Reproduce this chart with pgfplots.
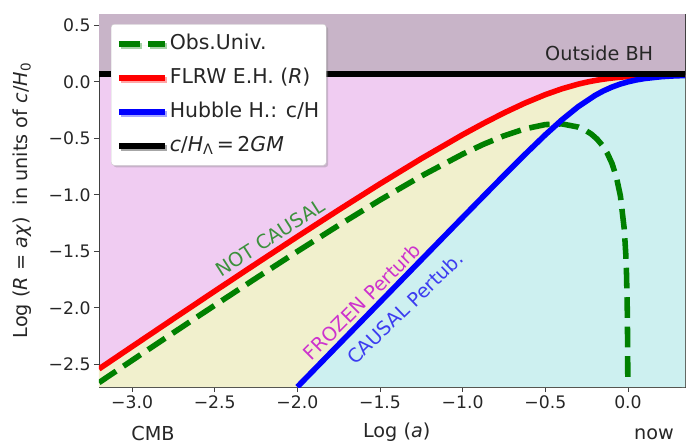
\documentclass[border=0pt]{standalone}
\usepackage{fontspec}
\setmainfont{DejaVu Sans}
\usepackage{pgfplots}
\usepackage{pgfplotstable}
\pgfplotsset{compat=1.18}
\usetikzlibrary{shadows}
\definecolor{pinkc}{RGB}{240,204,242}
\definecolor{yellowc}{RGB}{241,240,205}
\definecolor{cyanc}{RGB}{205,240,240}
\definecolor{topc}{RGB}{200,180,200}
\definecolor{mplgreen}{RGB}{0,128,0}
\definecolor{txtgreen}{RGB}{60,145,60}
\definecolor{txtmag}{RGB}{205,50,205}
\definecolor{txtblue}{RGB}{60,60,240}

\pgfplotstableread{
x y
-3.2 -2.5401
-3.0 -2.3426
-2.75 -2.0967
-2.5 -1.8521
-2.25 -1.6095
-2.0 -1.3696
-1.75 -1.1334
-1.5 -0.9025
-1.25 -0.6793
-1.0 -0.4678
-0.875 -0.3685
-0.75 -0.2750
-0.625 -0.1892
-0.5 -0.1135
-0.4 -0.0620
-0.30103 -0.0205
-0.25964 -0.0062
-0.22185 0.0053
-0.18709 0.0146
-0.15490 0.0221
-0.12494 0.0283
-0.09691 0.0333
-0.07058 0.0374
-0.04576 0.0409
-0.02228 0.0438
0.0 0.0461
0.04139 0.0499
0.0969 0.0536
0.17609 0.0571
0.345 0.0608
}\redtab

\pgfplotstableread{
x y
-2.0 -2.6990
-1.75 -2.3240
-1.5 -1.9490
-1.25 -1.5741
-1.125 -1.3868
-1.0 -1.1996
-0.875 -1.0130
-0.75 -0.8276
-0.625 -0.6450
-0.5 -0.4687
-0.4 -0.3366
-0.3 -0.2185
-0.2 -0.1209
-0.15 -0.0814
-0.1 -0.0483
-0.05 -0.0213
0.0 0.0
0.05 0.0165
0.1 0.0289
0.2 0.0450
0.27 0.0515
0.345 0.0559
}\bluetab

\pgfplotstableread{
x y
-3.2 -2.6612
-3.0 -2.4645
-2.75 -2.2199
-2.5 -1.9772
-2.25 -1.7371
-2.0 -1.5006
-1.75 -1.2693
-1.5 -1.0457
-1.25 -0.8335
-1.0 -0.6395
-0.875 -0.5532
-0.75 -0.4774
-0.625 -0.4167
-0.5 -0.3783
-0.4 -0.3723
-0.30103 -0.4002
-0.25964 -0.4268
-0.22185 -0.4620
-0.18709 -0.5067
-0.15490 -0.5625
-0.12494 -0.6322
-0.09691 -0.7211
-0.07058 -0.8392
-0.04576 -1.0094
-0.02228 -1.3054
-0.01323 -1.5255
-0.00877 -1.7007
-0.00437 -2.0008
-0.00218 -2.3015
-0.00102 -2.63
}\greentab

\pgfplotstableread{
x y
-3.2 0.07
0.345 0.07
}\blacktab

\begin{document}
\begin{tikzpicture}
\useasboundingbox (-99bp,-57bp) rectangle (588bp,387bp);
\begin{axis}[
  at={(0,0)}, anchor=south west,
  scale only axis, width=586bp, height=373bp,
  xmin=-3.2, xmax=0.345, ymin=-2.7, ymax=0.6,
  clip mode=individual,
  axis background/.style={fill=pinkc},
  axis line style={black!75, line width=0.9bp},
  tick align=outside, xtick pos=bottom, ytick pos=left,
  major tick length=5bp,
  tick style={black!75, line width=0.9bp},
  xtick={-3,-2.5,-2,-1.5,-1,-0.5,0},
  xticklabels={−3.0,−2.5,−2.0,−1.5,−1.0,−0.5,0.0},
  ytick={-2.5,-2,-1.5,-1,-0.5,0,0.5},
  yticklabels={−2.5,−2.0,−1.5,−1.0,−0.5,0.0,0.5},
  tick label style={font=\fontsize{17.3}{20}\selectfont, text=black!85},
  xlabel={Log (\textit{a})},
  ylabel={Log (\textit{R} = \textit{aχ})\ \ in units of \textit{c}/\textit{H}\textsubscript{0}},
  every axis x label/.style={at={(axis description cs:0.508,-0.121)}, anchor=center,
    font=\fontsize{19.3}{23}\selectfont, text=black!85},
  every axis y label/.style={at={(axis description cs:-0.131,0.5)}, anchor=center, rotate=90,
    font=\fontsize{19.3}{23}\selectfont, text=black!85},
  legend style={at={(axis description cs:0.0205,0.973)}, anchor=north west,
    font=\fontsize{20.5}{24}\selectfont, text=black!85,
    draw=black!20, fill=white, rounded corners=3bp,
    inner xsep=5bp, inner ysep=8bp,
    nodes={inner sep=2bp, text height=15bp, text depth=4bp},
    row sep=11bp,
    drop shadow={shadow xshift=2bp, shadow yshift=-2bp, opacity=0.35}},
  legend cell align=left,
  /tikz/every even column/.append style={column sep=12bp},
  legend image code/.code={\draw[#1] (0bp,0bp) -- (46bp,0bp);},
]
% region fills
\addplot[draw=none, fill=yellowc, forget plot] table {\redtab} -- (axis cs:0.345,-2.7) -- (axis cs:-3.2,-2.7) -- cycle;
\addplot[draw=none, fill=cyanc, forget plot] table {\bluetab} -- (axis cs:0.345,-2.7) -- cycle;
\addplot[draw=none, fill=topc, forget plot] table {\blacktab} -- (axis cs:0.345,0.6) -- (axis cs:-3.2,0.6) -- cycle;
% curves
\addplot[color=mplgreen, line width=5.56bp, dash pattern=on 20.6bp off 8.9bp, mark=none] table {\greentab};
\addlegendentry{Obs.Univ.}
\addplot[color=red, line width=5.56bp, mark=none] table {\redtab};
\addlegendentry{FLRW E.H. (\textit{R})}
\addplot[color=blue, line width=5.56bp, mark=none] table {\bluetab};
\addlegendentry{Hubble H.: c/H}
\addplot[color=black, line width=5.56bp, mark=none] table {\blacktab};
\addlegendentry{\textit{c}/\textit{H}\textsubscript{Λ}\,=\,2\textit{GM}}
% annotations
\node[font=\fontsize{19.3}{23}\selectfont, text=black!85] at (axis cs:-0.174,0.249) {Outside BH};
\node[font=\fontsize{19.3}{23}\selectfont, text=txtgreen, rotate=32.6] at (axis cs:-2.165,-1.379) {NOT CAUSAL};
\node[font=\fontsize{19.3}{23}\selectfont, text=txtmag, rotate=45] at (axis cs:-1.609,-1.944) {FROZEN Perturb};
\node[font=\fontsize{19.3}{23}\selectfont, text=txtblue, rotate=44] at (axis cs:-1.349,-2.001) {CAUSAL Pertub.};
\node[font=\fontsize{19.3}{23}\selectfont, text=black!85] at (axis cs:-2.873,-3.115) {CMB};
\node[font=\fontsize{19.3}{23}\selectfont, text=black!85] at (axis cs:0.157,-3.115) {now};
\end{axis}
\end{tikzpicture}
\end{document}
